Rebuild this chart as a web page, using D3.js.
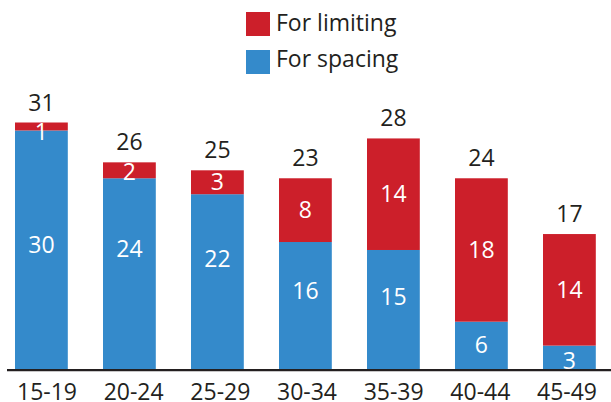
<!DOCTYPE html>
<html><head><meta charset="utf-8">
<script src="https://cdn.jsdelivr.net/npm/d3@7"></script>
<style>html,body{margin:0;padding:0;background:#fff;}</style>
</head><body>
<svg id="c" width="611" height="402"></svg>
<script>
const categories = ["15-19","20-24","25-29","30-34","35-39","40-44","45-49"];
const spacing = [30,24,22,16,15,6,3];
const limiting = [1,2,3,8,14,18,14];
const totals = [31,26,25,23,28,24,17];
const seriesNames = ["For limiting","For spacing"];

const red = "#CC1F2A", blue = "#348ACB", ink = "#231F20";
const font = "'Open Sans', sans-serif";
const fs = "23px";
const svg = d3.select("#c");

const x = d3.scaleBand().domain(categories).range([-2.6,613.4]).paddingInner(0.4).paddingOuter(0.2);
const xl = d3.scalePoint().domain(categories).range([46.5,566.5]);
const y = d3.scaleLinear().domain([0,31]).range([369.5,122.5]);

const rows = categories.map((c,i)=>({cat:c, spacing:spacing[i], limiting:limiting[i], total:totals[i]}));
const stack = d3.stack().keys(["spacing","limiting"])(rows);
const colors = {spacing: blue, limiting: red};
const cx = d => x(d.data.cat)+x.bandwidth()/2;

stack.forEach(layer=>{
  const g = svg.append("g");
  g.selectAll("rect").data(layer).join("rect")
    .attr("x", d=>x(d.data.cat)).attr("width", x.bandwidth())
    .attr("y", d=>y(d[1])).attr("height", d=>y(d[0])-y(d[1]))
    .attr("fill", colors[layer.key]);
  g.selectAll("text").data(layer).join("text")
    .attr("x", cx)
    .attr("y", d=>{
      const v = d[1]-d[0];
      let c;
      if (layer.key === "spacing") c = y(Math.min(0.67*v - 0.9, 15.6));
      else c = Math.max((y(d[0])+y(d[1]))/2, y(d[1])+9);
      return c + 8.2;
    })
    .attr("text-anchor","middle").attr("fill","#fff")
    .style("font-family",font).style("font-size",fs)
    .text(d=>d.data[layer.key]);
});

svg.append("g").selectAll("text").data(rows).join("text")
  .attr("x", d=>x(d.cat)+x.bandwidth()/2)
  .attr("y", d=>y(d.spacing+d.limiting)-12)
  .attr("text-anchor","middle").attr("fill",ink)
  .style("font-family",font).style("font-size",fs)
  .text(d=>d.total);

const axis = svg.append("g").attr("transform","translate(0,370.2)")
  .call(d3.axisBottom(xl).tickSize(0).tickPadding(0));
axis.select(".domain").remove();
axis.append("line").attr("x1",7).attr("x2",611).attr("stroke",ink).attr("stroke-width",2.3);
axis.selectAll(".tick text").attr("dy",null).attr("y",29.8).attr("fill",ink)
  .style("font-family",font).style("font-size",fs);

const leg = svg.append("g");
seriesNames.forEach((n,i)=>{
  leg.append("rect").attr("x",246).attr("y",12+i*38).attr("width",24).attr("height",24)
    .attr("fill", i===0?red:blue);
  leg.append("text").attr("x",276).attr("y",31+i*36).attr("fill",ink)
    .style("font-family",font).style("font-size",fs).text(n);
});
</script>
</body></html>
